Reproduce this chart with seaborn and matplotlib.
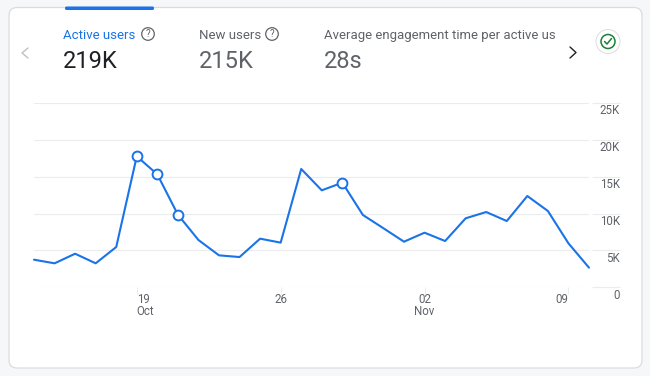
import matplotlib
matplotlib.use("Agg")
import matplotlib.pyplot as plt
from matplotlib.patches import Circle, FancyBboxPatch
from matplotlib.transforms import ScaledTranslation
import pandas as pd
import seaborn as sns

# Values
dates = pd.date_range("2023-10-14", "2023-11-10")
active_users = [3740, 3250, 4550, 3250, 5460, 17750, 15300, 9840, 6410, 4330,
                4100, 6590, 6050, 16030, 13140, 14180, 9800, 8000, 6180, 7400,
                6270, 9350, 10200, 8980, 12370, 10340, 5960, 2660]
marked_dates = ["2023-10-19", "2023-10-20", "2023-10-21", "2023-10-29"]
y_ticks = [0, 5000, 10000, 15000, 20000, 25000]
y_labels = ["0", "5K", "10K", "15K", "20K", "25K"]
x_ticks = ["2023-10-19", "2023-10-26", "2023-11-02", "2023-11-09"]
x_labels = ["19\nOct", "26", "02\nNov", "09"]
x_aligns = ["left", "center", "center", "right"]

BLUE = "#1a73e8"
GREY = "#5f6368"
GRID = "#ebecee"
W, H = 650, 376

sns.set_style("white")
plt.rcParams["font.family"] = ["Roboto", "DejaVu Sans"]

df = pd.DataFrame({"date": dates, "users": active_users})
marked = df[df.date.isin(pd.to_datetime(marked_dates))]

fig = plt.figure(figsize=(6.5, 3.76), dpi=100, facecolor="#f6f7f9")

# overlay in pixel coordinates for the card, header texts and icons
bg = fig.add_axes([0, 0, 1, 1], zorder=0)
bg.set_xlim(0, W)
bg.set_ylim(H, 0)
bg.axis("off")
bg.add_patch(FancyBboxPatch((9, 7.5), 633, 360.5, boxstyle="round,pad=0,rounding_size=8",
                            facecolor="white", edgecolor="#dadce0", linewidth=0.9))
bg.add_patch(FancyBboxPatch((65, 6.5), 89, 3.5, boxstyle="round,pad=0,rounding_size=1.5",
                            facecolor=BLUE, edgecolor="none"))

bg.text(63, 39, "Active users", color=BLUE, fontsize=9.5, va="baseline")
bg.text(199, 39, "New users", color=GREY, fontsize=9.5, va="baseline")
bg.text(324, 39, "Average engagement time per active us", color=GREY, fontsize=9.45, va="baseline")
bg.text(63, 68, "219K", color="#202124", fontsize=17, va="baseline")
bg.text(199, 68, "215K", color=GREY, fontsize=17, va="baseline")
bg.text(324, 68, "28s", color=GREY, fontsize=17, va="baseline")

for cx in [148, 272]:
    bg.add_patch(Circle((cx, 34), 6.3, facecolor="none", edgecolor=GREY, linewidth=0.9))
    bg.text(cx, 34.3, "?", color=GREY, fontsize=7, ha="center", va="center")

bg.plot([28, 22, 28], [48, 53, 58], color="#bdc1c6", linewidth=1)
bg.plot([570, 576, 570], [47, 52.5, 58], color="#202124", linewidth=1)

bg.add_patch(Circle((608, 41.5), 12, facecolor="white", edgecolor="#dadce0", linewidth=0.7))
bg.add_patch(Circle((608, 41.5), 7, facecolor="none", edgecolor="#188038", linewidth=1.1))
bg.plot([604.5, 607, 611.5], [41.5, 44, 38.5], color="#188038", linewidth=1.1)

# chart axes, placed so the grid falls on the reference's pixels
ax = fig.add_axes([34 / W, 1 - 287.3 / H, 555 / W, 184.5 / H], zorder=1)
ax.patch.set_alpha(0)

sns.lineplot(data=df, x="date", y="users", color=BLUE, linewidth=1.5, ax=ax, clip_on=False, zorder=3)
sns.scatterplot(data=marked, x="date", y="users", s=50, color="white", edgecolor=BLUE,
                linewidth=1.4, ax=ax, clip_on=False, zorder=4)

ax.set_xlim(dates[0], dates[-1])
ax.set_ylim(0, 25000)
ax.set_xlabel("")
ax.set_ylabel("")
sns.despine(ax=ax, left=True, right=True, top=True, bottom=True)

ax.grid(axis="y", color=GRID, linewidth=0.8)
ax.set_axisbelow(True)
ax.hlines(y_ticks, 1.0054, 1.0559, transform=ax.get_yaxis_transform(), color=GRID,
          linewidth=0.8, clip_on=False)

ax.yaxis.tick_right()
ax.set_yticks(y_ticks, y_labels)
ax.tick_params(axis="y", length=0, pad=22.3, labelsize=8.3, labelcolor=GREY)
# labels sit just below their grid lines
shift_down = ScaledTranslation(0, -1.5 / 100, fig.dpi_scale_trans)
for label in ax.get_yticklabels():
    label.set_ha("right")
    label.set_va("top")
    label.set_transform(label.get_transform() + shift_down)

ax.set_xticks(pd.to_datetime(x_ticks), x_labels)
ax.tick_params(axis="x", length=5, width=0.7, color=GRID, bottom=True, pad=-1, labelsize=8.3, labelcolor=GREY)
for label, align in zip(ax.get_xticklabels(), x_aligns):
    label.set_ha(align)
    label.set_linespacing(0.95)

fig.savefig("out.png", dpi=100, facecolor=fig.get_facecolor())
